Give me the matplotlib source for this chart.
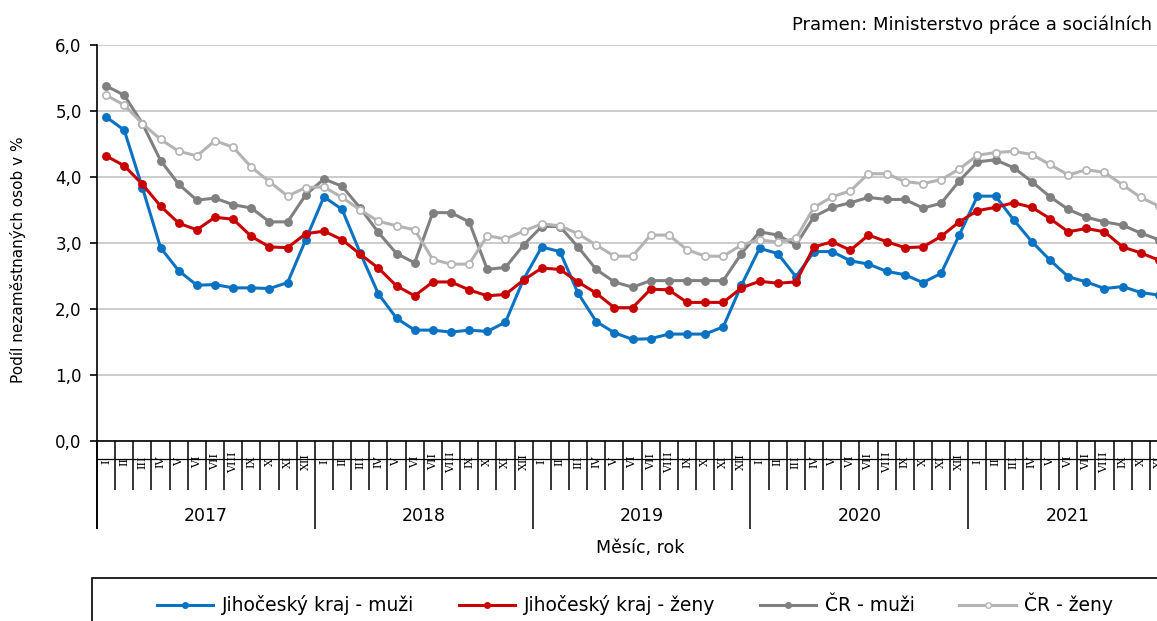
import numpy as np
import matplotlib
matplotlib.use("Agg")
import matplotlib.pyplot as plt
from matplotlib.patches import Rectangle
from matplotlib.lines import Line2D

# ----------------------------------------------------------------------------------------------------------------------

years = ["2017", "2018", "2019", "2020", "2021"]
months = ["I", "II", "III", "IV", "V", "VI", "VII", "VIII", "IX", "X", "XI", "XII"]

# Jan 2017 - Nov 2021
jc_muzi = [4.91, 4.71, 3.84, 2.93, 2.58, 2.36, 2.37, 2.32, 2.32, 2.31, 2.40, 3.05,
           3.70, 3.51, 2.85, 2.23, 1.86, 1.68, 1.68, 1.65, 1.68, 1.66, 1.80, 2.45,
           2.94, 2.87, 2.24, 1.81, 1.64, 1.54, 1.55, 1.62, 1.62, 1.62, 1.73, 2.36,
           2.92, 2.84, 2.49, 2.87, 2.87, 2.73, 2.68, 2.57, 2.52, 2.40, 2.54, 3.12,
           3.71, 3.71, 3.35, 3.02, 2.74, 2.49, 2.41, 2.31, 2.34, 2.25, 2.21]
jc_zeny = [4.32, 4.17, 3.89, 3.56, 3.30, 3.20, 3.39, 3.36, 3.10, 2.94, 2.93, 3.14,
           3.18, 3.05, 2.83, 2.62, 2.35, 2.20, 2.41, 2.41, 2.29, 2.20, 2.22, 2.44,
           2.62, 2.60, 2.41, 2.24, 2.02, 2.02, 2.30, 2.29, 2.10, 2.10, 2.10, 2.32,
           2.42, 2.39, 2.41, 2.94, 3.02, 2.89, 3.12, 3.02, 2.93, 2.94, 3.10, 3.32,
           3.49, 3.54, 3.61, 3.54, 3.37, 3.17, 3.22, 3.17, 2.94, 2.85, 2.74]
cr_muzi = [5.38, 5.24, 4.81, 4.25, 3.89, 3.65, 3.68, 3.58, 3.53, 3.32, 3.32, 3.73,
           3.97, 3.86, 3.53, 3.16, 2.84, 2.70, 3.46, 3.46, 3.32, 2.60, 2.63, 2.97,
           3.25, 3.25, 2.94, 2.60, 2.41, 2.33, 2.43, 2.43, 2.43, 2.43, 2.43, 2.84,
           3.17, 3.12, 2.97, 3.40, 3.54, 3.61, 3.69, 3.66, 3.66, 3.53, 3.60, 3.94,
           4.23, 4.26, 4.14, 3.93, 3.70, 3.51, 3.39, 3.32, 3.27, 3.15, 3.05]
cr_zeny = [5.24, 5.09, 4.81, 4.57, 4.39, 4.32, 4.55, 4.45, 4.15, 3.93, 3.71, 3.84,
           3.85, 3.69, 3.50, 3.33, 3.26, 3.20, 2.75, 2.68, 2.68, 3.11, 3.06, 3.18,
           3.29, 3.26, 3.14, 2.97, 2.80, 2.80, 3.12, 3.12, 2.90, 2.80, 2.80, 2.97,
           3.05, 3.01, 3.07, 3.54, 3.70, 3.79, 4.05, 4.05, 3.93, 3.90, 3.96, 4.12,
           4.33, 4.37, 4.39, 4.34, 4.19, 4.03, 4.11, 4.07, 3.88, 3.69, 3.56]

labels = ["Jihočeský kraj - muži", "Jihočeský kraj - ženy", "ČR - muži", "ČR - ženy"]
colors = ["#0A72C2", "#C80000", "#808080", "#B4B4B4"]

# ----------------------------------------------------------------------------------------------------------------------

plt.rcParams["font.family"] = "DejaVu Sans"

W, H = 1157, 621
fig = plt.figure(figsize=(W / 100, H / 100), dpi=100)

# Plot area runs a bit past the right edge (picture is cropped)
ax = fig.add_axes([97 / W, 180 / H, 1071 / W, 396 / H])

n = len(jc_muzi)
x = np.arange(n) + 0.5

series = [jc_muzi, jc_zeny, cr_muzi, cr_zeny]
handles = []
for vals, lab, col in zip(series, labels, colors):
    face = "white" if lab == "ČR - ženy" else col
    ln, = ax.plot(x, vals, color=col, lw=2.2, marker="o", ms=5.2,
                  mfc=face, mec=col, mew=1.2, label=lab, zorder=3)
    handles.append(ln)

ax.set_xlim(0, n)
ax.set_ylim(0, 6)

# Y axis
ax.set_yticks(np.arange(0, 7, 1))
ax.set_yticklabels([f"{v:.1f}".replace(".", ",") for v in range(7)], fontsize=12)
ax.tick_params(axis="y", direction="out", length=5, width=1.2, pad=6)
ax.grid(axis="y", color="#C8C8C8", lw=1.3, zorder=0)
ax.set_axisbelow(True)

# X axis - month boundaries (short) and year boundaries (long)
ax.set_xticks(np.arange(0, n + 1, 12))
ax.set_xticks(np.arange(n + 1), minor=True)
ax.set_xticklabels([])
ax.tick_params(axis="x", which="minor", direction="out", length=35, width=1.1)
ax.tick_params(axis="x", which="major", direction="out", length=63, width=1.1)

for s in ["top", "right"]:
    ax.spines[s].set_visible(False)
ax.spines["left"].set_linewidth(1.2)
ax.spines["bottom"].set_linewidth(1.2)

trans = ax.get_xaxis_transform()

# Left axis line goes down through the label area
ax.plot([0, 0], [0, -0.22], transform=trans, color="black", lw=1.2, clip_on=False)
ax.plot([0, n], [-0.046, -0.046], transform=trans, color="black", lw=0.9, clip_on=False)

# Month labels (roman numerals, rotated)
for i in range(n):
    ax.text(i + 0.5, -0.053, months[i % 12], transform=trans, rotation=90,
            ha="center", va="center", fontsize=8, family="DejaVu Serif")

# Year labels
for k, yr in enumerate(years):
    end = min(12 * (k + 1), n)
    ax.text((12 * k + end) / 2, -0.189, yr, transform=trans,
            ha="center", va="center", fontsize=12.5)

fig.text(640 / W, 1 - 548 / H, "Měsíc, rok", ha="center", va="center", fontsize=12.5)
fig.text(18 / W, 1 - 260 / H, "Podíl nezaměstnaných osob v %", rotation=90,
         ha="center", va="center", fontsize=11)
fig.text(1152 / W, 1 - 25 / H, "Pramen: Ministerstvo práce a sociálních",
         ha="right", va="center", fontsize=13)

# Legend with a frame cut by the picture border
leg_handles = [Line2D([], [], color=h.get_color(), lw=2.2, marker="o", ms=4,
                      mfc=h.get_markerfacecolor(), mec=h.get_color()) for h in handles]
fig.legend(leg_handles, labels, ncol=4, loc="center", bbox_to_anchor=(635 / W, 1 - 604 / H),
           frameon=False, fontsize=13.5, handlelength=3.0, handletextpad=0.45,
           columnspacing=2.4, borderpad=0.2)
fig.add_artist(Rectangle((92 / W, -0.1), 1.0, (621 - 578) / H + 0.1, transform=fig.transFigure,
                         fill=False, ec="black", lw=1.2))

fig.savefig("out.png", dpi=100)
